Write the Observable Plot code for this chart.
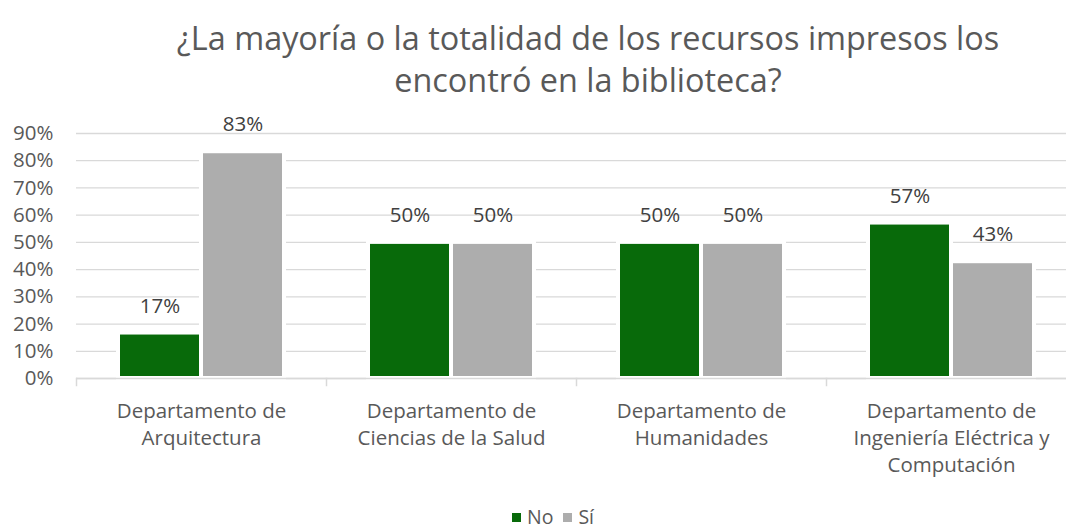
<!DOCTYPE html>
<html>
<head>
<meta charset="utf-8">
<script src="https://cdn.jsdelivr.net/npm/d3@7"></script>
<script src="https://cdn.jsdelivr.net/npm/@observablehq/plot@0.6"></script>
<style>
  html, body { margin: 0; padding: 0; background: #fff; overflow: hidden; }
  #wrap { position: relative; width: 1066px; height: 529px; overflow: hidden; font-family: "Open Sans", sans-serif; }
  #title { position: absolute; top: 16px; left: 88px; width: 1000px; text-align: center; font-size: 32.4px; line-height: 42px; color: #595959; }
  #chart { position: absolute; left: 0; top: 0; width: 1076px; }
  #chart svg { max-width: none; }
  #legend { position: absolute; top: 506px; left: 0; width: 1106px; text-align: center; font-size: 19.5px; line-height: 22px; color: #595959; }
  #legend span.sw { display: inline-block; width: 9px; height: 9px; margin-right: 6px; vertical-align: 2px; }
  #legend span.item { margin: 0 5px; }
</style>
</head>
<body>
<div id="wrap">
  <div id="title">¿La mayoría o la totalidad de los recursos impresos los<br>encontró en la biblioteca?</div>
  <div id="chart"></div>
  <div id="legend"></div>
</div>
<script>
const categories = [
  "Departamento de Arquitectura",
  "Departamento de Ciencias de la Salud",
  "Departamento de Humanidades",
  "Departamento de Ingeniería Eléctrica y Computación"
];
const categoryLabels = [
  "Departamento de\nArquitectura",
  "Departamento de\nCiencias de la Salud",
  "Departamento de\nHumanidades",
  "Departamento de\nIngeniería Eléctrica y\nComputación"
];
const series = ["No", "Sí"];
const noValues = [0.167, 0.5, 0.5, 0.571];
const siValues = [0.833, 0.5, 0.5, 0.429];
const yTicks = [0, 0.1, 0.2, 0.3, 0.4, 0.5, 0.6, 0.7, 0.8, 0.9];
const colors = ["#086a0a", "#adadad"];

const data = [];
categories.forEach((c, i) => {
  data.push({cat: c, serie: "No", value: noValues[i]});
  data.push({cat: c, serie: "Sí", value: siValues[i]});
});
const labelOf = new Map(categories.map((c, i) => [c, categoryLabels[i]]));

const W = 1076, H = 490, mT = 133, mB = 112, mL = 76;
const fmt = d3.format(".0%");

const chart = Plot.plot({
  width: W, height: H,
  marginLeft: mL, marginRight: 0, marginTop: mT, marginBottom: mB,
  style: {fontFamily: "Open Sans, sans-serif", background: "transparent", overflow: "visible"},
  fx: {domain: categories, padding: 0, label: null, axis: null},
  x: {domain: series, paddingInner: 0, paddingOuter: 0.506, axis: null},
  y: {domain: [0, 0.9], label: null, axis: null},
  color: {domain: series, range: colors},
  marks: [
    Plot.gridY(yTicks, {stroke: "#d9d9d9", strokeOpacity: 1, strokeWidth: 1.3}),
    Plot.barY(data, {fx: "cat", x: "serie", y: "value", fill: "serie", stroke: "white", strokeWidth: 4}),
    Plot.ruleY([0], {stroke: "#d9d9d9", strokeWidth: 1.5}),
    Plot.frame({anchor: "left", stroke: "#d9d9d9", strokeWidth: 1.5, insetTop: H - mT - mB, insetBottom: -7}),
    Plot.text(data, {fx: "cat", x: "serie", y: "value", text: d => fmt(d.value), dy: -27, fontSize: 20.5, fill: "#404040"}),
    Plot.axisY(yTicks, {tickSize: 0, tickPadding: 23, tickFormat: fmt, fontSize: 20.5, fill: "#595959", facetAnchor: "left"}),
    Plot.axisFx({anchor: "bottom", tickSize: 0, tickPadding: 20, tickFormat: d => labelOf.get(d), fontSize: 20.5, lineHeight: 1.32, fill: "#595959", label: null})
  ]
});
document.getElementById("chart").appendChild(chart);

const legend = document.getElementById("legend");
series.forEach((s, i) => {
  const item = document.createElement("span");
  item.className = "item";
  item.innerHTML = `<span class="sw" style="background:${colors[i]}"></span>${s}`;
  legend.appendChild(item);
});
</script>
</body>
</html>
